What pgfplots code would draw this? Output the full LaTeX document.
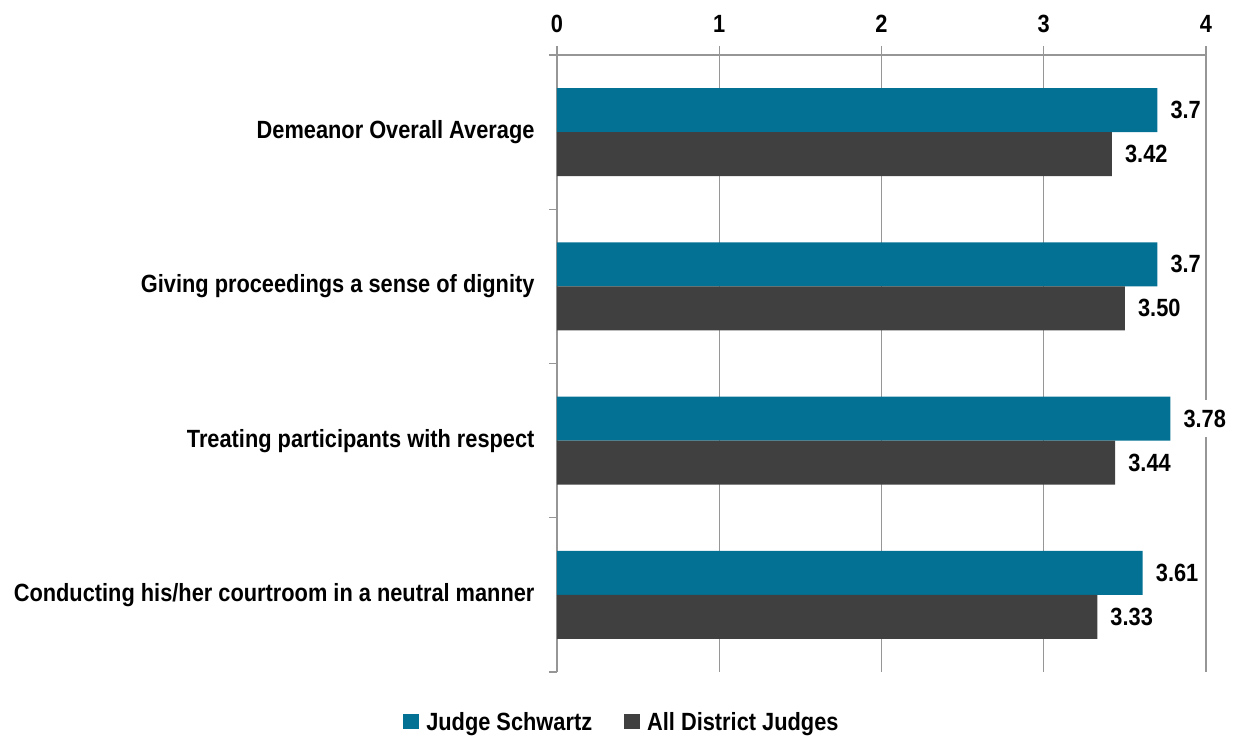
\documentclass[border=0pt]{standalone}
\usepackage{pgfplots}
\pgfplotsset{compat=1.18}
\usepackage{fontspec}
\setmainfont{Liberation Sans}[FakeStretch=0.875]
\definecolor{cblue}{RGB}{3,113,148}
\definecolor{cgrey}{RGB}{64,64,64}
\definecolor{cline}{RGB}{150,150,150}
\newcommand{\lf}{\fontsize{25}{30}\selectfont\bfseries}
\begin{document}
\begin{tikzpicture}
\begin{axis}[name=ax, scale only axis, width=649bp, height=617bp,
 xmin=0, xmax=4, ymin=-0.5, ymax=3.5,
 axis x line*=top, axis y line*=left,
 axis line style={cline, line width=1.2bp},
 xtick={0,1,2,3,4}, ytick={0,1,2,3},
 yticklabels={Conducting his/her courtroom in a neutral manner, Treating participants with respect, Giving proceedings a sense of dignity, Demeanor Overall Average},
 minor ytick={-0.5,0.5,1.5,2.5,3.5},
 tick align=outside, major tick length=9bp, minor tick length=8bp,
 major y tick style={draw=none}, minor y tick style={cline, line width=1.2bp},
 major x tick style={cline, line width=1.2bp},
 xmajorgrids, major grid style={cline, line width=1.2bp},
 tick label style={font=\lf}, /pgf/number format/assume math mode=true,
 xticklabel style={yshift=10bp},
 yticklabel style={xshift=-10bp},
 xbar, bar width=0.285,
 nodes near coords, point meta=explicit symbolic,
 every node near coord/.append style={font=\lf, fill=white, inner xsep=3bp, inner ysep=10bp, xshift=10bp, anchor=west},
 legend columns=2,
 legend style={draw=none, font=\lf, at={(axis cs:0.4,-0.5)}, anchor=center, yshift=-50bp,
   /tikz/every odd column/.append style={column sep=5bp},
   /tikz/every even column/.append style={column sep=30bp}},
 legend image code/.code={\path[#1] (0bp,-7bp) rectangle (16bp,8bp);},
]
\addplot[fill=cblue, draw=none, bar shift=0.1425] coordinates {
 (3.61,0) [3.61]
 (3.78,1) [3.78]
 (3.7,2) [3.7]
 (3.7,3) [3.7]
};
\addplot[fill=cgrey, draw=none, bar shift=-0.1425] coordinates {
 (3.33,0) [3.33]
 (3.44,1) [3.44]
 (3.50,2) [3.50]
 (3.42,3) [3.42]
};
\legend{Judge Schwartz, All District Judges}
\end{axis}
\path ([shift={(-557bp,55bp)}]ax.north west) rectangle ([shift={(33bp,-66bp)}]ax.south east);
\end{tikzpicture}
\end{document}
